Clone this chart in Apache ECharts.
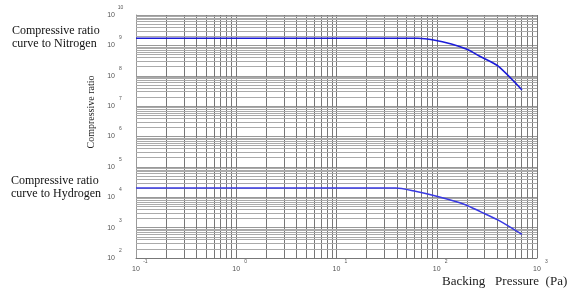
<!DOCTYPE html>
<html><head><meta charset="utf-8">
<script src="https://cdn.jsdelivr.net/npm/echarts@6/dist/echarts.min.js"></script>
<style>html,body{margin:0;padding:0;background:#fff}#c{width:575px;height:299px}</style>
</head><body><div id="c"></div>
<script>
// axis decades (exponents of 10)
const xExponents = [-1, 0, 1, 2, 3];
const yExponents = [2, 3, 4, 5, 6, 7, 8, 9, 10];
// Nitrogen curve (Backing pressure Pa, compression ratio)
const nitrogenX = [0.1, 65, 93, 140, 200, 275, 407, 708];
const nitrogenY = [1.71e9, 1.71e9, 1.51e9, 1.11e9, 7.4e8, 4.2e8, 2.1e8, 3.4e7];
// Hydrogen curve
const hydrogenX = [0.1, 39, 58, 102, 190, 275, 407, 708];
const hydrogenY = [2.02e4, 2.02e4, 1.64e4, 1.06e4, 5.8e3, 3.3e3, 1.8e3, 6.0e2];
// annotation texts
const nitrogenText = 'Compressive ratio\ncurve to Nitrogen';
const hydrogenText = 'Compressive ratio\ncurve to Hydrogen';
const yTitle = 'Compressive ratio';
const xTitle = 'Backing   Pressure  (Pa)';

function minorValues(exps) {
  const out = [];
  for (let i = 0; i < exps.length - 1; i++) {
    for (let m = 2; m <= 9; m++) out.push(Number((m * Math.pow(10, exps[i])).toPrecision(3)));
  }
  return out;
}
const xMinor = minorValues(xExponents);
const yMinor = minorValues(yExponents);

const exp = v => Math.round(Math.log10(v));
const labelRichBase = {
  b: {fontSize: 7, color: '#555', fontFamily: 'Liberation Sans', lineHeight: 20, verticalAlign: 'middle'},
  s: {fontSize: 5, color: '#555', fontFamily: 'Liberation Sans', lineHeight: 20, width: 5, align: 'left', verticalAlign: 'top', padding: [0, 0, 0, 3]},
  p: {fontSize: 5, width: 8, lineHeight: 20}
};

const chart = echarts.init(document.getElementById('c'), null, {renderer: 'canvas'});
const pair = (xs, ys) => xs.map((x, i) => [x, ys[i]]);

chart.setOption({
  animation: false,
  backgroundColor: '#fff',
  grid: {left: 136, right: 38, top: 15, bottom: 41},
  xAxis: {
    type: 'log', logBase: 10,
    min: Math.pow(10, xExponents[0]), max: Math.pow(10, xExponents[xExponents.length - 1]),
    interval: 1,
    axisLine: {show: true, lineStyle: {color: '#777', width: 1}},
    axisTick: {show: false},
    splitLine: {show: true, lineStyle: {color: '#777', width: 1}},
    axisLabel: {
      margin: 1,
      formatter: v => '{p| }{b|10}{s|' + exp(v) + '}',
      rich: labelRichBase
    }
  },
  yAxis: {
    type: 'log', logBase: 10,
    min: Math.pow(10, yExponents[0]), max: Math.pow(10, yExponents[yExponents.length - 1]),
    interval: 1,
    axisLine: {show: true, lineStyle: {color: '#999', width: 1}},
    axisTick: {show: false},
    splitLine: {show: true, lineStyle: {color: '#999', width: 1}},
    axisLabel: {
      margin: 13,
      formatter: v => '{b|10}{s|' + exp(v) + '}',
      rich: labelRichBase
    }
  },
  graphic: [
    {type: 'text', left: 12, top: 24, style: {text: nitrogenText, font: '12px "Liberation Serif"', fill: '#111', lineHeight: 13}},
    {type: 'text', left: 11, top: 174, style: {text: hydrogenText, font: '12px "Liberation Serif"', fill: '#111', lineHeight: 13}},
    {type: 'text', x: 91, y: 112, rotation: Math.PI / 2, style: {text: yTitle, font: '10px "Liberation Serif"', fill: '#222', align: 'center', verticalAlign: 'middle'}},
    {type: 'text', left: 442, top: 275, style: {text: xTitle, font: '13px "Liberation Serif"', fill: '#222'}}
  ],
  series: [
    {
      type: 'line', name: 'grid', data: [], silent: true, symbol: 'none',
      markLine: {
        silent: true, z: 1, symbol: 'none', label: {show: false}, animation: false,
        emphasis: {disabled: true},
        data: xMinor.map(v => ({xAxis: v, lineStyle: {color: '#777', width: 1, type: 'solid'}}))
          .concat(yMinor.map(v => ({yAxis: v, lineStyle: {color: '#aaa', width: 1, type: 'solid'}})))
      }
    },
    {
      type: 'line', name: 'Nitrogen', data: pair(nitrogenX, nitrogenY), z: 5,
      symbol: 'none', smooth: 0.25, lineStyle: {color: '#1c1cd8', width: 1.6}
    },
    {
      type: 'line', name: 'Hydrogen', data: pair(hydrogenX, hydrogenY), z: 5,
      symbol: 'none', smooth: 0.25, lineStyle: {color: '#3a3ae2', width: 1.6}
    }
  ]
});
</script>
</body></html>
